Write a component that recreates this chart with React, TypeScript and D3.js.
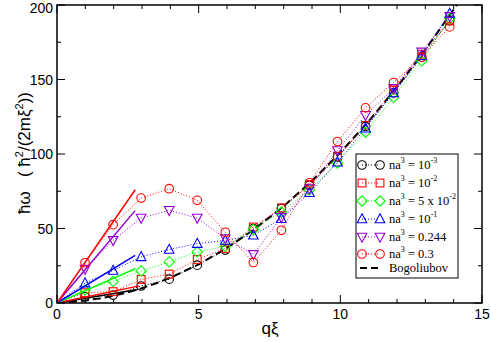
import React from "react";
import * as d3 from "d3";

const W = 491, H = 342;
const nIdx = [1, 2, 3, 4, 5, 6, 7, 8, 9, 10, 11, 12, 13, 14];
const qStep = 0.99;

const s_1em3 = [4.2, 5.3, 11.4, 16, 25.4, 35.5, 50, 63.5, 79, 98, 118.5, 141, 165, 189.5];
const s_1em2 = [6.9, 7.6, 15.8, 19.4, 29.2, 36.6, 51, 63.8, 79.5, 98.5, 119.2, 143, 167, 189.3];
const s_5em2 = [8.7, 14.5, 21.5, 27.6, 34.3, 38, 49.3, 61.1, 76, 94, 114.6, 138, 162.5, 191];
const s_1em1 = [13.4, 21.8, 31, 35.9, 39.9, 42, 45.5, 56.6, 74, 94.5, 117.3, 141, 166, 194.4];
const s_0244 = [22.7, 42, 57, 62.2, 57, 43.3, 32.6, 57.5, 76.7, 102.3, 126, 144, 168.5, 192.3];
const s_03 = [27, 52.6, 70.4, 76.7, 68.9, 47.5, 27.2, 48.8, 80.7, 108.4, 131, 148, 165, 185.3];

// linear phonon fits: [end q, end value]
const fitEnds = [
  [2.85, 9],
  [2.9, 11.5],
  [2.76, 23],
  [2.76, 32],
  [2.76, 62],
  [2.76, 76],
];

const bogoQ = [0, 0.25, 0.5, 0.75, 1, 1.5, 2, 2.5, 3, 3.5, 4, 5, 6, 7, 8, 9, 10, 11, 12, 13, 14, 14.2];
const bogoW = [0, 0.359, 0.75, 1.2, 1.732, 3.092, 4.899, 7.181, 9.95, 13.21, 16.97, 25.98, 36.99, 49.99, 64.99, 81.99, 100.99, 122.0, 145.0, 170.0, 197.0, 202.64];

const xTicksMajor = [0, 5, 10, 15];
const yTicksMajor = [0, 50, 100, 150, 200];

type Series = { vals: number[]; color: string; marker: string; exp: string; base: string };
const series: Series[] = [
  { vals: s_1em3, color: "#000000", marker: "circle", base: "10", exp: "-3" },
  { vals: s_1em2, color: "#ff0000", marker: "square", base: "10", exp: "-2" },
  { vals: s_5em2, color: "#00ff00", marker: "diamond", base: "5 x 10", exp: "-2" },
  { vals: s_1em1, color: "#0000ff", marker: "tri", base: "10", exp: "-1" },
  { vals: s_0244, color: "#9400d3", marker: "tridown", base: "0.244", exp: "" },
  { vals: s_03, color: "#ff0000", marker: "circle", base: "0.3", exp: "" },
];

const SERIF = "'Liberation Serif', 'Times New Roman', serif";
const SANS = "'Liberation Sans', Arial, sans-serif";

function Marker({ type, cx, cy, color }: { type: string; cx: number; cy: number; color: string }) {
  const p = { fill: "none", stroke: color, strokeWidth: 1.1 };
  if (type === "circle") return <circle cx={cx} cy={cy} r={4.3} {...p} />;
  if (type === "square") return <rect x={cx - 3.9} y={cy - 3.9} width={7.8} height={7.8} {...p} />;
  if (type === "diamond")
    return <path d={`M${cx},${cy - 5.2}L${cx + 5.2},${cy}L${cx},${cy + 5.2}L${cx - 5.2},${cy}Z`} {...p} />;
  if (type === "tri")
    return <path d={`M${cx},${cy - 5.2}L${cx + 4.8},${cy + 3.8}L${cx - 4.8},${cy + 3.8}Z`} {...p} />;
  return <path d={`M${cx},${cy + 5.2}L${cx + 4.8},${cy - 3.8}L${cx - 4.8},${cy - 3.8}Z`} {...p} />;
}

export default function App() {
  const x = d3.scaleLinear().domain([0, 15]).range([57, 482]);
  const y = d3.scaleLinear().domain([0, 200]).range([303, 5]);
  const line = d3.line<[number, number]>().x((d) => x(d[0])).y((d) => y(d[1]));
  const minorX = d3.range(0, 16, 1);
  const minorY = d3.range(0, 201, 25);
  const bogo: [number, number][] = bogoQ.map((q, i) => [q, bogoW[i]]);

  const lg = { x0: 356, y0: 154, w: 102, h: 124 };
  const rows = [165, 183, 201, 219, 237, 254, 268];

  return (
    <svg width={W} height={H} style={{ position: "absolute", left: 0, top: 0, background: "#fff" }}>
      <defs>
        <clipPath id="plot">
          <rect x={57} y={5} width={425} height={298} />
        </clipPath>
      </defs>
      <rect width={W} height={H} fill="#fff" />
      <g clipPath="url(#plot)">
        {/* Bogoliubov */}
        <path d={line(bogo) || ""} fill="none" stroke="#000" strokeWidth={2} strokeDasharray="8,4" />
        {series.map((s, i) => {
          const pts: [number, number][] = [[0, 0], ...s.vals.map((v, j) => [nIdx[j] * qStep, v] as [number, number])];
          return (
            <g key={i}>
              <path d={line(pts) || ""} fill="none" stroke={s.color} strokeWidth={1} strokeDasharray="1,2" />
              <path
                d={line([[0, 0], [fitEnds[i][0], fitEnds[i][1]]]) || ""}
                fill="none"
                stroke={s.color}
                strokeWidth={1.5}
              />
              {s.vals.map((v, j) => (
                <Marker key={j} type={s.marker} cx={x(nIdx[j] * qStep)} cy={y(v)} color={s.color} />
              ))}
            </g>
          );
        })}
      </g>
      {/* frame */}
      <rect x={57} y={5} width={425} height={298} fill="none" stroke="#000" strokeWidth={1.5} />
      {minorX.map((t) => {
        const L = t % 5 === 0 ? 8 : 4;
        return (
          <g key={"xt" + t} stroke="#000" strokeWidth={1}>
            <line x1={x(t)} x2={x(t)} y1={303} y2={303 - L} />
            <line x1={x(t)} x2={x(t)} y1={5} y2={5 + L} />
          </g>
        );
      })}
      {minorY.map((t) => {
        const L = t % 50 === 0 ? 8 : 4;
        return (
          <g key={"yt" + t} stroke="#000" strokeWidth={1}>
            <line x1={57} x2={57 + L} y1={y(t)} y2={y(t)} />
            <line x1={482} x2={482 - L} y1={y(t)} y2={y(t)} />
          </g>
        );
      })}
      <g fontFamily={SANS} fontSize={14} fill="#000">
        {xTicksMajor.map((t) => (
          <text key={"xl" + t} x={x(t)} y={319} textAnchor="middle">
            {t}
          </text>
        ))}
        {yTicksMajor.map((t) => (
          <text key={"yl" + t} x={53} y={Math.max(y(t) + 5, 12.5)} textAnchor="end">
            {t}
          </text>
        ))}
      </g>
      <text x={270} y={334} textAnchor="middle" fontFamily={SANS} fontSize={17}>
        qξ
      </text>
      <text transform="translate(30,153) rotate(-90)" textAnchor="middle" fontFamily={SANS} fontSize={17}>
        ħω{"\u00a0\u00a0\u00a0"}(
        {"\u00a0"}ħ
        <tspan fontSize={11} dy={-7}>2</tspan>
        <tspan dy={7}>/(2mξ</tspan>
        <tspan fontSize={11} dy={-7}>2</tspan>
        <tspan dy={7}>))</tspan>
      </text>
      {/* legend */}
      <rect x={lg.x0} y={lg.y0} width={lg.w} height={lg.h} fill="#fff" stroke="#000" strokeWidth={1} />
      {series.map((s, i) => (
        <g key={"lg" + i}>
          <line x1={362} x2={380} y1={rows[i]} y2={rows[i]} stroke={s.color} strokeWidth={1} strokeDasharray="1,2" />
          <Marker type={s.marker} cx={362} cy={rows[i]} color={s.color} />
          <Marker type={s.marker} cx={380} cy={rows[i]} color={s.color} />
          <text x={389} y={rows[i] + 4} fontFamily={SERIF} fontSize={12.5}>
            na
            <tspan fontSize={8} dy={-6}>3</tspan>
            <tspan dy={6}>{" = " + s.base}</tspan>
            {s.exp ? (
              <tspan fontSize={8} dy={-6}>
                {s.exp}
              </tspan>
            ) : null}
          </text>
        </g>
      ))}
      <line x1={360} x2={382} y1={rows[6]} y2={rows[6]} stroke="#000" strokeWidth={2} strokeDasharray="7,4" />
      <text x={389} y={rows[6] + 4} fontFamily={SERIF} fontSize={12.5}>
        Bogoliubov
      </text>
    </svg>
  );
}
